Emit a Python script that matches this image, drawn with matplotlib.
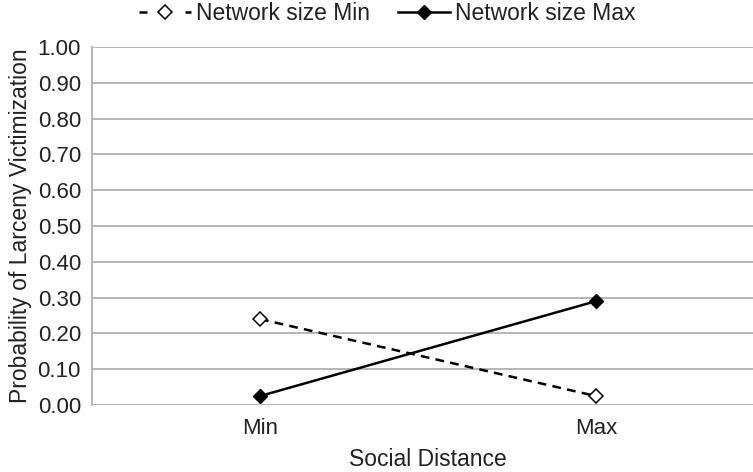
import matplotlib.pyplot as plt
import numpy as np

plt.rcParams['font.family'] = ['Liberation Sans', 'DejaVu Sans']

# data
categories = ['Min', 'Max']
net_min = [0.24, 0.025]
net_max = [0.025, 0.29]
yticks = np.arange(0, 1.01, 0.1)

txt = '#222222'

fig = plt.figure(figsize=(7.53, 4.72), dpi=100)
# right edge runs past the figure, like the original
ax = fig.add_axes([92 / 753, 1 - 405 / 472, 672 / 753, 358 / 472])

x = np.arange(len(categories))
ax.plot(x, net_min, color='black', linestyle=(0, (3.5, 2.5)), linewidth=1.8,
        marker='D', markersize=7.5, markerfacecolor='white',
        markeredgecolor='black', markeredgewidth=1.1,
        label='Network size Min', zorder=3)
ax.plot(x, net_max, color='black', linestyle='-', linewidth=1.8,
        marker='D', markersize=7.5, markerfacecolor='black',
        markeredgecolor='black', label='Network size Max', zorder=3)

ax.set_xlim(-0.5, 1.5)
ax.set_ylim(0, 1)
ax.set_yticks(yticks)
ax.set_yticklabels([f'{v:.2f}' for v in yticks])
ax.set_xticks(x)
ax.set_xticklabels(categories)
ax.tick_params(axis='both', length=0, labelsize=16, colors=txt)
ax.tick_params(axis='y', pad=8)
ax.tick_params(axis='x', pad=9)

ax.grid(axis='y', color='#b0b0b0', linewidth=1.3)
ax.set_axisbelow(True)
for side in ['top', 'right', 'bottom']:
    ax.spines[side].set_visible(False)
ax.spines['left'].set_color('#b0b0b0')
ax.spines['left'].set_linewidth(1.3)

ax.set_xlabel('Social Distance', fontsize=16.5, color=txt, labelpad=7)
ax.set_ylabel('Probability of Larceny Victimization', fontsize=16.5,
              color=txt, labelpad=4)

leg = fig.legend(loc='center', bbox_to_anchor=(387 / 753, 1 - 14 / 472),
                 ncol=2, frameon=False, fontsize=16.5, handlelength=2.3,
                 columnspacing=1.2, handletextpad=0.2, labelcolor=txt)
# short dash - diamond - short dash, as in the original key
leg.get_lines()[0].set_dashes([3.2, 6.0])

fig.savefig('out.png', dpi=100)
